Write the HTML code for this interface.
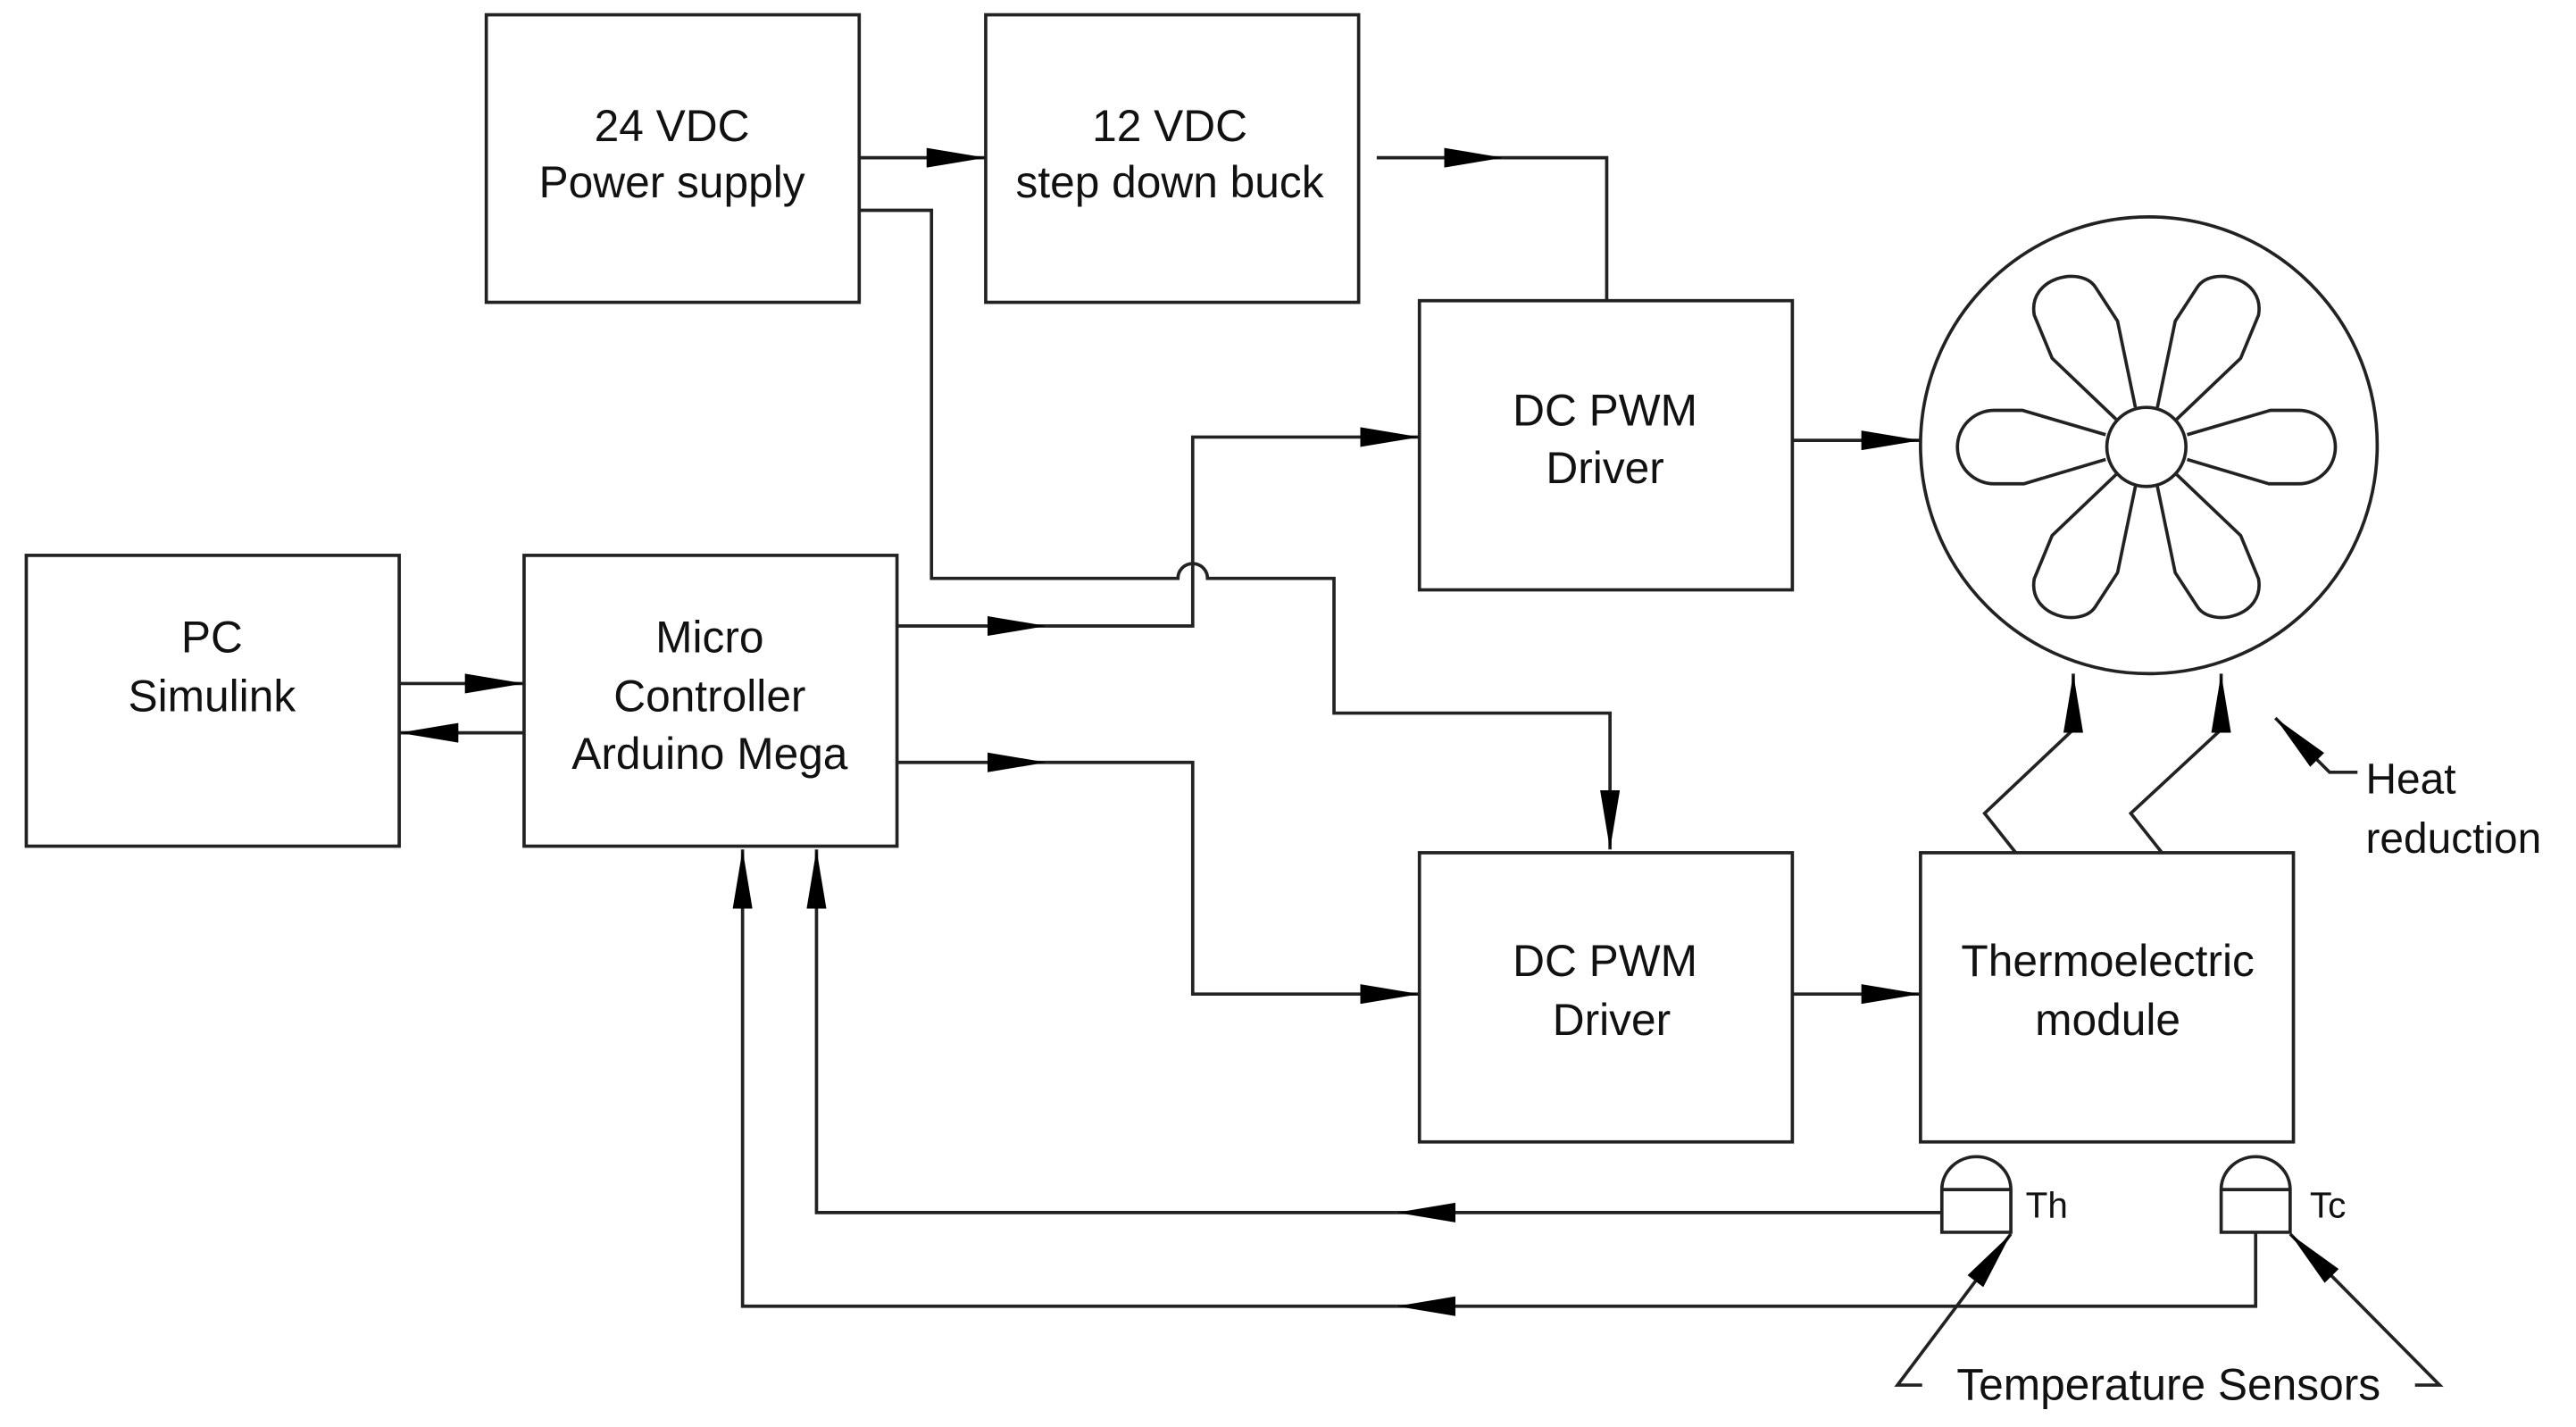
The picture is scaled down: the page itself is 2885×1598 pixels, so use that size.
<!DOCTYPE html>
<html><head><meta charset="utf-8"><style>html,body{margin:0;padding:0;background:#fff}svg{display:block}</style></head>
<body>
<svg width="2885" height="1598" viewBox="0 0 1568 868.5" preserveAspectRatio="none" xmlns="http://www.w3.org/2000/svg" font-family="Liberation Sans, Arial, sans-serif">
<defs>
<marker id="a" viewBox="0 0 36 12" refX="36" refY="6" markerWidth="36" markerHeight="12" markerUnits="userSpaceOnUse" orient="auto"><path d="M0,0 L36,6 L0,12 z" fill="#000"/></marker>
<path id="hp" d="M137,-41 L417,-123 L512,-123 A123,123 0 0 1 512,124 L412,124 L137,42"/>
<path id="dp" d="M37,-133 L97,-423 L172,-538 C220,-610 400,-570 377,-443 L317,-298 L102,-93"/>
</defs>
<g fill="#fff" stroke="#222" stroke-width="2">
<rect x="296" y="9" width="227" height="175"/>
<rect x="600" y="9" width="227" height="175"/>
<rect x="864" y="183" width="227" height="176"/>
<rect x="16" y="338" width="227" height="177"/>
<rect x="319" y="338" width="227" height="177"/>
<rect x="864" y="519" width="227" height="176"/>
<rect x="1169" y="519" width="227" height="176"/>
<circle cx="1308" cy="271" r="139"/>
</g>
<g font-size="27" fill="#111" text-anchor="middle">
<text x="409" y="86">24 VDC</text><text x="409" y="120">Power supply</text>
<text x="712" y="86">12 VDC</text><text x="712" y="120">step down buck</text>
<text x="977" y="259">DC PWM</text><text x="977" y="294">Driver</text>
<text x="129" y="397">PC</text><text x="129" y="433">Simulink</text>
<text x="432" y="397">Micro</text><text x="432" y="433">Controller</text><text x="432" y="468">Arduino Mega</text>
<text x="977" y="594">DC PWM</text><text x="981" y="630">Driver</text>
<text x="1283" y="594">Thermoelectric</text><text x="1283" y="630">module</text>
<text x="1320" y="852">Temperature Sensors</text>
</g>
<g font-size="26" fill="#111"><text x="1440" y="483">Heat</text><text x="1440" y="519">reduction</text></g>
<g font-size="22" fill="#111"><text x="1233" y="741">Th</text><text x="1406" y="741">Tc</text></g>
<!-- fan -->
<g fill="none" stroke="#222" transform="translate(1306.5,272) scale(0.181)">
<g stroke-width="11">
<circle r="133"/>
<use href="#hp"/>
<use href="#hp" transform="scale(-1,1)"/>
<use href="#dp"/>
<use href="#dp" transform="scale(-1,1)"/>
<use href="#dp" transform="scale(1,-1)"/>
<use href="#dp" transform="scale(-1,-1)"/>
</g>
</g>
<!-- connectors -->
<g fill="none" stroke="#222" stroke-width="2">
<path d="M523,96 H600" marker-end="url(#a)"/>
<path d="M838,96 H915" marker-end="url(#a)"/><path d="M915,96 H978 V183"/>
<path d="M523,128 H567 V352 H717 A9,9 0 0 1 735,352 H812 V434 H980 V517" marker-end="url(#a)"/>
<path d="M546,381 H637" marker-end="url(#a)"/><path d="M637,381 H726 V266 H864" marker-end="url(#a)"/>
<path d="M546,464 H637" marker-end="url(#a)"/><path d="M637,464 H726 V605 H864" marker-end="url(#a)"/>
<path d="M243,416 H319" marker-end="url(#a)"/>
<path d="M319,446 H243" marker-end="url(#a)"/>
<path d="M1091,268 H1169" marker-end="url(#a)"/>
<path d="M1091,605 H1169" marker-end="url(#a)"/>
<path d="M1227,519 L1208,495 L1262,444 V410" marker-end="url(#a)"/>
<path d="M1316,519 L1297,495 L1352,444 V410" marker-end="url(#a)"/>
<path d="M1435,470 H1418 L1385,437" marker-end="url(#a)"/>
<path d="M1182,738 H850" marker-end="url(#a)"/><path d="M850,738 H497 V517" marker-end="url(#a)"/>
<path d="M1373,750 V795 H850" marker-end="url(#a)"/><path d="M850,795 H452 V517" marker-end="url(#a)"/>
<path d="M1170,843 H1155 L1224,751" marker-end="url(#a)"/>
<path d="M1470,843 H1485 L1394,751" marker-end="url(#a)"/>
<path d="M1182,750 V724 A21,20 0 0 1 1224,724 V750 Z M1182,724 H1224" fill="#fff"/>
<path d="M1352,750 V724 A21,20 0 0 1 1394,724 V750 Z M1352,724 H1394" fill="#fff"/>
</g>
</svg>
</body></html>
